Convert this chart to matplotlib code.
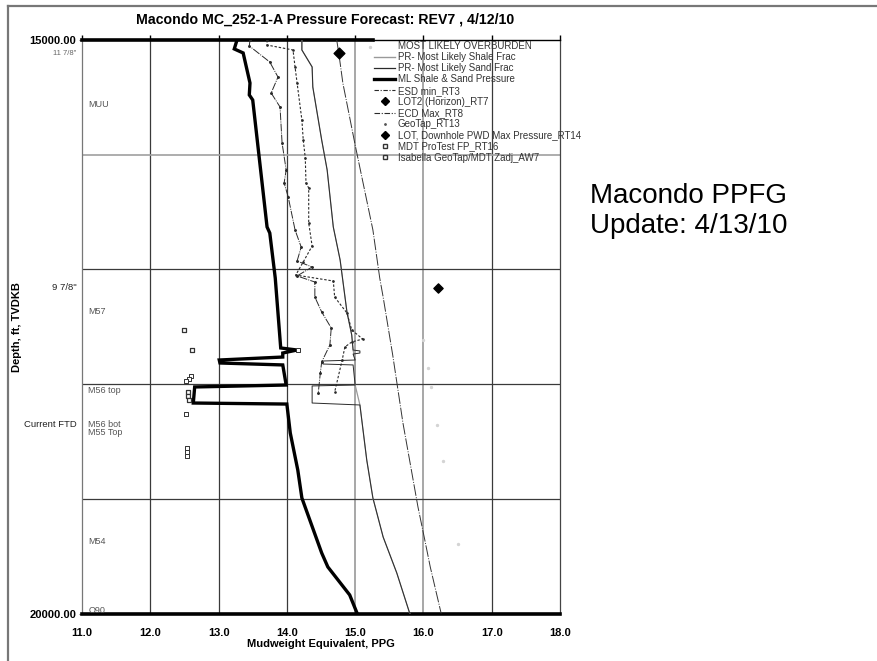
import matplotlib
matplotlib.use("Agg")
import matplotlib.pyplot as plt
from matplotlib.lines import Line2D

plt.rcParams['font.family'] = ['Liberation Sans', 'DejaVu Sans']

# ---------------- data ----------------
title = "Macondo MC_252-1-A Pressure Forecast: REV7 , 4/12/10"
x_label = "Mudweight Equivalent, PPG"
y_label = "Depth, ft, TVDKB"
x_ticks = [11, 12, 13, 14, 15, 16, 17, 18]
x_tick_labels = ["11.0", "12.0", "13.0", "14.0", "15.0", "16.0", "17.0", "18.0"]
y_ticks = [15000, 20000]
y_tick_labels = ["15000.00", "20000.00"]
grid_depths = [16000, 17000, 18000, 19000]

# ML Shale & Sand Pressure
ml_ppg = [13.27, 13.23, 13.36, 13.46, 13.45, 13.50, 13.71, 13.75, 13.83, 13.91, 14.15,
          13.94, 13.94, 13.01, 13.02, 13.94, 13.99, 12.65, 12.63, 14.00, 14.05, 14.16,
          14.22, 14.51, 14.60, 14.92, 15.03]
ml_depth = [15000, 15078, 15113, 15375, 15479, 15523, 16630, 16683, 17075, 17685, 17703,
            17729, 17764, 17790, 17816, 17833, 18008, 18025, 18165, 18174, 18426, 18749,
            18993, 19472, 19594, 19838, 20000]

# PR- Most Likely Sand Frac
sand_ppg = [14.22, 14.22, 14.37, 14.38, 14.51, 14.59, 14.68, 14.78, 14.88, 14.95, 14.97,
            15.07, 15.07, 14.97, 15.00, 14.51, 14.53, 14.97, 15.00, 14.37, 14.37, 15.07,
            15.17, 15.26, 15.41, 15.61, 15.80]
sand_depth = [15000, 15087, 15235, 15410, 15872, 16133, 16630, 16918, 17371, 17572, 17703,
              17711, 17729, 17738, 17790, 17799, 17825, 17833, 18008, 18016, 18165, 18182,
              18662, 18993, 19333, 19647, 20000]

# PR- Most Likely Shale Frac
shale_ppg = [14.22, 14.22, 14.37, 14.38, 14.51, 14.59, 14.68, 14.78, 14.88, 14.95, 14.97,
             15.00, 15.00, 15.07, 15.17, 15.26, 15.41, 15.61, 15.80]
shale_depth = [15000, 15087, 15235, 15410, 15872, 16133, 16630, 16918, 17371, 17572, 17703,
               17790, 18008, 18182, 18662, 18993, 19333, 19647, 20000]

# ESD min_RT3
esd_ppg = [13.46, 13.45, 13.75, 13.87, 13.77, 13.90, 13.93, 13.99, 13.96, 14.02, 14.12,
           14.21, 14.15, 14.37, 14.15, 14.41, 14.41, 14.51, 14.65, 14.63, 14.51, 14.49, 14.46]
esd_depth = [15000, 15052, 15192, 15323, 15462, 15584, 15898, 16133, 16247, 16369, 16656,
             16805, 16927, 16979, 17057, 17110, 17241, 17371, 17511, 17659, 17807, 17903, 18077]

# ECD Max_RT8
ecd_ppg = [13.71, 13.71, 14.09, 14.12, 14.15, 14.22, 14.24, 14.27, 14.28, 14.32, 14.32,
           14.37, 14.24, 14.13, 14.68, 14.70, 14.88, 14.95, 15.11, 14.95, 14.85, 14.81, 14.70]
ecd_depth = [15000, 15044, 15087, 15235, 15375, 15697, 15872, 16029, 16247, 16290, 16595,
             16796, 16935, 17049, 17101, 17241, 17380, 17528, 17607, 17633, 17676, 17790, 18069]

# MOST LIKELY OVERBURDEN
ob_ppg = [14.73, 14.76, 14.82, 15.00, 15.26, 15.36, 15.41, 15.55, 15.70, 15.92, 16.02, 16.10, 16.26]
ob_depth = [15000, 15113, 15375, 15915, 16656, 17075, 17241, 17746, 18339, 19071, 19359, 19594, 20000]

# GeoTap_RT13 (faint points)
geotap_ppg = [15.22, 15.99, 16.07, 16.11, 16.20, 16.29, 16.51]
geotap_depth = [15061, 17615, 17860, 18025, 18356, 18670, 19394]

# LOT2 (Horizon)_RT7
lot2_ppg = [14.76]
lot2_depth = [15113]
# LOT, Downhole PWD Max Pressure_RT14
lotpwd_ppg = [16.21]
lotpwd_depth = [17162]
# MDT ProTest FP_RT16
mdt_ppg = [12.49, 12.61, 12.55, 12.55, 12.56]
mdt_depth = [17528, 17703, 18069, 18104, 18138]
# Isabella GeoTap/MDT Zadj_AW7
isa_ppg = [12.60, 12.57, 12.52, 12.52, 12.54, 12.54, 12.54, 14.16]
isa_depth = [17929, 17955, 17972, 18260, 18557, 18592, 18627, 17703]

legend_labels = ["MOST LIKELY OVERBURDEN", "PR- Most Likely Shale Frac",
                 "PR- Most Likely Sand Frac", "ML Shale & Sand Pressure", "ESD min_RT3",
                 "LOT2 (Horizon)_RT7", "ECD Max_RT8", "GeoTap_RT13",
                 "LOT, Downhole PWD Max Pressure_RT14", "MDT ProTest FP_RT16",
                 "Isabella GeoTap/MDT Zadj_AW7"]

formation_labels = ["MUU", "M57", "M56 top", "M56 bot", "M55 Top", "M54", "O90"]
formation_depths = [15558, 17363, 18060, 18350, 18420, 19368, 19975]

casing_labels = ['11 7/8"', '9 7/8"', "Current FTD"]
casing_depths = [15000, 17162, 18348]

side_note = ["Macondo PPFG", "Update: 4/13/10"]

# ---------------- figure ----------------
W, H = 877, 661
fig = plt.figure(figsize=(W / 100, H / 100), dpi=100)
fig.patch.set_facecolor("white")

# page frame
fig.add_artist(Line2D([8 / W, 8 / W], [0, 1 - 6 / H], color="#777777", lw=1.6,
                      transform=fig.transFigure))
fig.add_artist(Line2D([8 / W, 1], [1 - 6 / H, 1 - 6 / H], color="#777777", lw=1.6,
                      transform=fig.transFigure))

ax = fig.add_axes([82 / W, 1 - 613.5 / H, 478 / W, 573.5 / H])
ax.set_xlim(11, 18)
ax.set_ylim(20000, 15000)

# grid
for xv in x_ticks[1:-1]:
    light = xv in (15, 16)
    ax.axvline(xv, color="#a0a0a0" if light else "#3a3a3a", lw=1.3 if light else 0.9, zorder=1)
for yv in grid_depths:
    light = yv == 16000
    ax.axhline(yv, color="#a0a0a0" if light else "#3a3a3a", lw=1.2 if light else 0.9, zorder=1)

# series
h_ob, = ax.plot(ob_ppg, ob_depth, color="#333333", lw=0.7, ls=(0, (12, 1.5, 1, 1.5)), zorder=3)
h_shale, = ax.plot(shale_ppg, shale_depth, color="#999999", lw=0.9, zorder=3)
h_sand, = ax.plot(sand_ppg, sand_depth, color="#2a2a2a", lw=0.7, zorder=4)
h_ml, = ax.plot(ml_ppg, ml_depth, color="black", lw=2.4, zorder=6, solid_joinstyle="miter")
h_esd, = ax.plot(esd_ppg, esd_depth, color="#2a2a2a", lw=0.7, ls=(0, (8, 1.2, 1, 1.2)),
                 marker=".", ms=2.2, zorder=4)
h_ecd, = ax.plot(ecd_ppg, ecd_depth, color="#2a2a2a", lw=0.8, ls=(0, (2.2, 1.6)),
                 marker=".", ms=1.8, zorder=4)
h_geo = ax.scatter(geotap_ppg, geotap_depth, s=2, color="#d4d4d4", zorder=3)
h_lot2 = ax.scatter(lot2_ppg, lot2_depth, marker="D", s=30, color="black", zorder=7)
h_lotp = ax.scatter(lotpwd_ppg, lotpwd_depth, marker="D", s=22, color="black", zorder=7)
h_mdt = ax.scatter(mdt_ppg, mdt_depth, marker="s", s=6, facecolor="white",
                   edgecolor="#333333", lw=0.9, zorder=7)
h_isa = ax.scatter(isa_ppg, isa_depth, marker="s", s=10, facecolor="white",
                   edgecolor="#333333", lw=0.7, zorder=7)

# spines
ax.spines["left"].set_color("#777777")
ax.spines["left"].set_linewidth(0.9)
ax.spines["right"].set_color("#444444")
ax.spines["right"].set_linewidth(0.9)
ax.spines["bottom"].set_color("black")
ax.spines["bottom"].set_linewidth(2.6)
ax.spines["top"].set_color("black")
ax.spines["top"].set_linewidth(2.6)
ax.spines["top"].set_bounds(11, 15.26)
ax.axhline(15000, xmin=(15.26 - 11) / 7, xmax=1, color="black", lw=1.0, zorder=5, clip_on=False)

ax.set_xticks(x_ticks)
ax.set_xticklabels(x_tick_labels, fontsize=8, fontweight="bold")
ax.set_yticks(y_ticks)
ax.set_yticklabels(y_tick_labels, fontsize=8, fontweight="bold")
ax.tick_params(axis="x", which="both", bottom=False, top=True, direction="out",
               length=3.5, width=1.0, pad=7)
ax.tick_params(axis="y", which="both", left=True, length=2, width=0.8, pad=2,
               color="#777777")

ax.set_xlabel(x_label, fontsize=8, fontweight="bold", labelpad=1)
ax.set_ylabel(y_label, fontsize=8, fontweight="bold")
ax.yaxis.set_label_coords((22 - 82) / 478, 0.5)

# formation labels
for lab, d in zip(formation_labels, formation_depths):
    ax.text(11.09, d, lab, fontsize=6.5, color="#555555", va="center", ha="left", zorder=8)

# casing / FTD labels left of axis
for i, (lab, d) in enumerate(zip(casing_labels, casing_depths)):
    ax.text(-0.012, d + (115 if i == 0 else 0), lab, transform=ax.get_yaxis_transform(),
            fontsize=6.8 if i else 5.5,
            color="#222222" if i else "#666666", ha="right", va="center",
            fontweight="normal", clip_on=False)

# legend
leg_handles = [Line2D([], [], color="white", lw=0.8),
               Line2D([], [], color="#999999", lw=1.0),
               Line2D([], [], color="#2a2a2a", lw=0.9),
               Line2D([], [], color="black", lw=2.4),
               Line2D([], [], color="#2a2a2a", lw=0.8, ls=(0, (4, 1.5, 1, 1.5))),
               Line2D([], [], color="black", marker="D", ls="none", ms=4),
               Line2D([], [], color="#2a2a2a", lw=0.8, ls=(0, (5, 1.5, 1, 1.5))),
               Line2D([], [], color="#555555", marker=".", ls="none", ms=2),
               Line2D([], [], color="black", marker="D", ls="none", ms=4),
               Line2D([], [], color="#333333", marker="s", ls="none", ms=2.5,
                      markerfacecolor="white"),
               Line2D([], [], color="#333333", marker="s", ls="none", ms=3.5,
                      markerfacecolor="white")]
leg = ax.legend(leg_handles, legend_labels, loc="upper left",
                bbox_to_anchor=((373 - 82) / 478, (613.5 - 40) / 573.5),
                frameon=False, fontsize=7, handlelength=2.2, handletextpad=0.25,
                labelspacing=0.12, borderpad=0.1, borderaxespad=0)
for t in leg.get_texts():
    t.set_color("#333333")
leg.set_zorder(10)

# title and side note
fig.text(325 / W, 1 - 20 / H, title, fontsize=10.2, fontweight="bold", ha="center",
         va="center")
fig.text(590 / W, 1 - 203 / H, side_note[0], fontsize=20, ha="left", va="baseline")
fig.text(590 / W, 1 - 233 / H, side_note[1], fontsize=20, ha="left", va="baseline")

fig.savefig("out.png", dpi=100, facecolor="white")
